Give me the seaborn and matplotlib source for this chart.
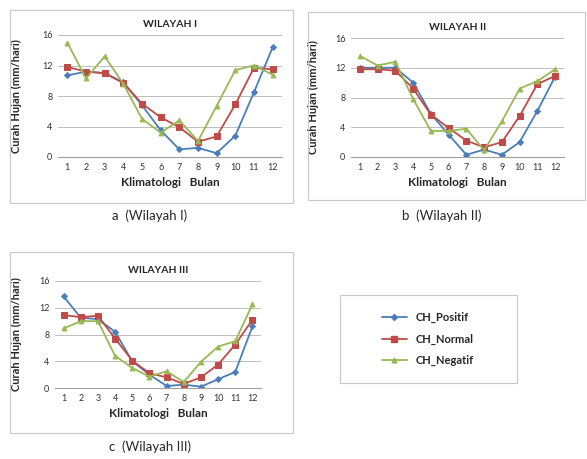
import numpy as np
import pandas as pd
import matplotlib
matplotlib.use("Agg")
import matplotlib.pyplot as plt
from matplotlib.patches import Rectangle
from matplotlib.lines import Line2D
import seaborn as sns

months = list(range(1, 13))
series_names = ["CH_Positif", "CH_Normal", "CH_Negatif"]

# Wilayah I
w1_positif = [10.7, 11.2, 11.0, 9.8, 6.8, 3.5, 1.0, 1.2, 0.5, 2.8, 8.5, 14.4]
w1_normal = [11.8, 11.2, 11.0, 9.7, 7.0, 5.2, 3.9, 2.0, 2.7, 6.9, 11.7, 11.5]
w1_negatif = [15.0, 10.3, 13.2, 9.6, 5.0, 3.2, 4.8, 2.1, 6.7, 11.4, 12.0, 10.8]
# Wilayah II
w2_positif = [12.0, 12.0, 12.0, 10.0, 5.8, 3.0, 0.3, 1.0, 0.3, 2.0, 6.2, 10.8]
w2_normal = [11.8, 11.8, 11.6, 9.2, 5.7, 3.9, 2.2, 1.3, 2.0, 5.5, 9.8, 10.9]
w2_negatif = [13.6, 12.3, 12.8, 7.8, 3.5, 3.5, 3.8, 0.9, 4.8, 9.2, 10.2, 11.8]
# Wilayah III
w3_positif = [13.7, 10.5, 10.3, 8.4, 4.0, 2.0, 0.3, 0.5, 0.2, 1.3, 2.4, 9.2]
w3_normal = [10.9, 10.6, 10.8, 7.4, 4.1, 2.2, 1.6, 0.6, 1.6, 3.5, 6.5, 10.2]
w3_negatif = [8.9, 10.0, 10.0, 4.8, 3.0, 1.7, 2.5, 0.9, 3.9, 6.2, 7.0, 12.5]

titles = ["WILAYAH I", "WILAYAH II", "WILAYAH III"]
captions = ["a  (Wilayah I)", "b  (Wilayah II)", "c  (Wilayah III)"]

COLORS = {"CH_Positif": "#4a7ebb", "CH_Normal": "#be4b48", "CH_Negatif": "#98b954"}
MARKERS = {"CH_Positif": "D", "CH_Normal": "s", "CH_Negatif": "^"}
MSIZE = {"CH_Positif": 3, "CH_Normal": 3.8, "CH_Negatif": 3.5}

sns.set_style("white")
plt.rcParams["font.family"] = ["Lato", "DejaVu Sans"]

W, H = 587, 459
fig = plt.figure(figsize=(W / 100, H / 100), dpi=100)


def px_axes(x0, x1, y_top, y_bot):
    return fig.add_axes([x0 / W, 1 - y_bot / H, (x1 - x0) / W, (y_bot - y_top) / H])


def box(x0, y0, x1, y1):
    fig.patches.append(Rectangle((x0 / W, 1 - y1 / H), (x1 - x0) / W, (y1 - y0) / H,
                                 transform=fig.transFigure, fill=False,
                                 edgecolor="#c8c8c8", lw=0.8))


def make_df(pos, nor, neg):
    rows = []
    for name, vals in zip(series_names, [pos, nor, neg]):
        for m, v in zip(months, vals):
            rows.append({"Bulan": m, "CH": v, "Seri": name})
    return pd.DataFrame(rows)


def draw_panel(ax, df, title, ylab_x):
    for name in series_names:
        sub = df[df["Seri"] == name]
        sns.lineplot(data=sub, x="Bulan", y="CH", ax=ax, color=COLORS[name],
                     marker=MARKERS[name], markersize=MSIZE[name],
                     markeredgecolor=COLORS[name], lw=1.3, legend=False)
    ax.set_xlim(0.5, 12.5)
    ax.set_ylim(0, 16)
    ax.set_yticks([0, 4, 8, 12, 16])
    ax.set_xticks(months)
    ax.yaxis.grid(True, color="#bdbdbd", lw=0.7)
    ax.set_axisbelow(True)
    for s in ["top", "right", "left"]:
        ax.spines[s].set_visible(False)
    ax.spines["bottom"].set_color("#a0a0a0")
    ax.spines["bottom"].set_linewidth(0.8)
    ax.tick_params(axis="both", labelsize=6.5, length=0, pad=4, colors="#333333")
    ax.set_xlabel("Klimatologi   Bulan", fontsize=8.5, fontweight="bold", labelpad=4)
    ax.set_ylabel("Curah Hujan (mm/hari)", fontsize=8, fontweight="bold")
    ax.yaxis.set_label_coords(ylab_x, 0.5)
    ax.set_title(title, fontsize=7.5, fontweight="bold", pad=6)


# Panel A
box(10, 10, 293, 203)
axA = px_axes(58, 282, 35, 157)
draw_panel(axA, make_df(w1_positif, w1_normal, w1_negatif), titles[0], -0.16)
fig.text(150 / W, 1 - 216 / H, captions[0], fontsize=9.5, ha="center", va="center")

# Panel B
box(308, 12, 585, 200)
axB = px_axes(351, 564, 38, 157)
draw_panel(axB, make_df(w2_positif, w2_normal, w2_negatif), titles[1], -0.15)
fig.text(442 / W, 1 - 216 / H, captions[1], fontsize=9.5, ha="center", va="center")

# Panel C
box(10, 252, 293, 433)
axC = px_axes(55, 261, 281, 388)
draw_panel(axC, make_df(w3_positif, w3_normal, w3_negatif), titles[2], -0.16)
fig.text(150 / W, 1 - 447 / H, captions[2], fontsize=9.5, ha="center", va="center")

# Legend box
box(340, 295, 517, 383)
handles = [Line2D([0], [0], color=COLORS[n], marker=MARKERS[n], markersize=MSIZE[n],
                  lw=1.3) for n in series_names]
leg = fig.legend(handles, series_names, loc="center", bbox_to_anchor=(428 / W, 1 - 339 / H),
                 frameon=False, prop={"size": 8, "weight": "bold"},
                 handlelength=2.2, labelspacing=0.9)

fig.savefig("out.png", dpi=100)
